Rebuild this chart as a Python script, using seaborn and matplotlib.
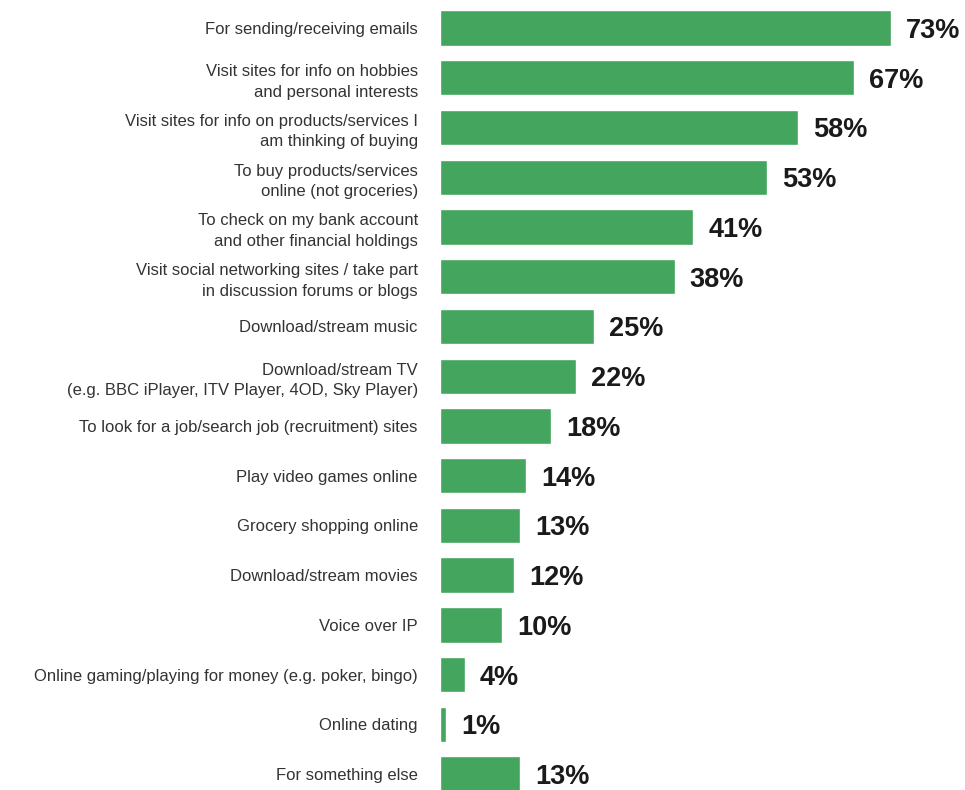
import matplotlib
matplotlib.use("Agg")
import matplotlib.pyplot as plt
import seaborn as sns
import pandas as pd

activities = [
    "For sending/receiving emails",
    "Visit sites for info on hobbies\nand personal interests",
    "Visit sites for info on products/services I\nam thinking of buying",
    "To buy products/services\nonline (not groceries)",
    "To check on my bank account\nand other financial holdings",
    "Visit social networking sites / take part\nin discussion forums or blogs",
    "Download/stream music",
    "Download/stream TV\n(e.g. BBC iPlayer, ITV Player, 4OD, Sky Player)",
    "To look for a job/search job (recruitment) sites",
    "Play video games online",
    "Grocery shopping online",
    "Download/stream movies",
    "Voice over IP",
    "Online gaming/playing for money (e.g. poker, bingo)",
    "Online dating",
    "For something else",
]
shares = [73, 67, 58, 53, 41, 38, 25, 22, 18, 14, 13, 12, 10, 4, 1, 13]

df = pd.DataFrame({"activity": activities, "share": shares})

sns.set_theme(style="white")
plt.rcParams["font.family"] = ["Liberation Sans", "DejaVu Sans"]

fig = plt.figure(figsize=(9.65, 7.9), dpi=100)
ax = fig.add_axes([440 / 965, 0, 1 - 440 / 965, 1])

sns.barplot(data=df, y="activity", x="share", orient="h", color="#43a55e",
            saturation=1, width=0.71, ax=ax)

ax.set_xlim(0, 85)
ax.set_ylim(15.32, -0.563)
ax.set_xlabel("")
ax.set_ylabel("")
ax.set_xticks([])
for s in ax.spines.values():
    s.set_visible(False)

ax.tick_params(axis="y", length=0, pad=16, labelsize=12, labelcolor="#333333")
for lbl in ax.get_yticklabels():
    lbl.set_horizontalalignment("right")
    lbl.set_linespacing(1.45)

for i, v in enumerate(shares):
    ax.annotate(f"{v}%", xy=(v, i), xytext=(15, -3), textcoords="offset pixels",
                ha="left", va="center", fontsize=19.5, fontweight="bold",
                color="#1a1a1a")

fig.savefig("out.png", dpi=100)
